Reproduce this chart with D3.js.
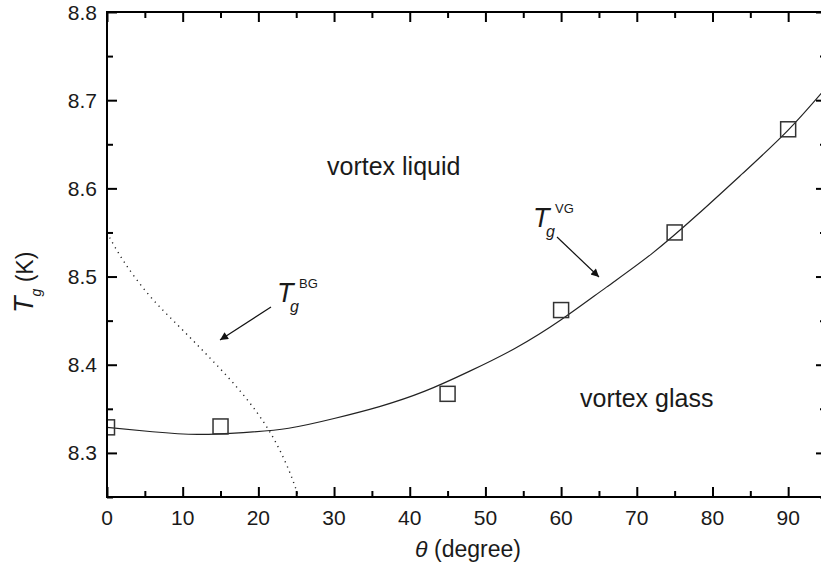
<!DOCTYPE html>
<html>
<head>
<meta charset="utf-8">
<script src="https://cdn.jsdelivr.net/npm/d3@7"></script>
<style>
  body { margin: 0; background: #fff; }
  text { font-family: "Liberation Sans", Arial, sans-serif; fill: #1a1a1a; }
</style>
</head>
<body>
<script>
// measured Tg points (squares)
var thetaObs = [0, 15, 45, 60, 75, 90];
var tgObs    = [8.329, 8.330, 8.367, 8.462, 8.550, 8.667];

// Tg^VG fit line
var vgTheta = [0, 6, 12, 18, 24, 30, 36, 42, 48, 54, 60, 66, 72, 78, 84, 90, 95];
var vgTg    = [8.329, 8.324, 8.321, 8.323, 8.328, 8.339, 8.3525, 8.370, 8.393, 8.419, 8.451, 8.488, 8.526, 8.570, 8.617, 8.666, 8.714];

// Tg^BG dotted line
var bgTheta = [0, 1.94, 5.59, 9.42, 13.08, 16.68, 19.95, 22.42, 24.4, 25.5];
var bgTg    = [8.5497, 8.519, 8.4766, 8.4445, 8.4124, 8.3801, 8.3457, 8.312, 8.2742, 8.245];

var xTicks = [0, 10, 20, 30, 40, 50, 60, 70, 80, 90];
var yTicks = [8.3, 8.4, 8.5, 8.6, 8.7, 8.8];

var width = 821, height = 570;
// plot frame (right edge lies just outside the window, as in the original)
var box = {left: 107, right: 826, top: 12, bottom: 497};

var svg = d3.select("body").append("svg")
    .attr("width", width)
    .attr("height", height);

var x = d3.scaleLinear().domain([0, 95]).range([box.left, box.right]);
var y = d3.scaleLinear().domain([8.25, 8.8]).range([box.bottom, box.top]);

var defs = svg.append("defs");
defs.append("clipPath")
    .attr("id", "plot")
  .append("rect")
    .attr("x", box.left).attr("y", box.top)
    .attr("width", box.right - box.left).attr("height", box.bottom - box.top);

defs.append("marker")
    .attr("id", "arrow")
    .attr("viewBox", "0 0 10 10")
    .attr("refX", 10).attr("refY", 5)
    .attr("markerWidth", 11).attr("markerHeight", 8)
    .attr("markerUnits", "userSpaceOnUse")
    .attr("orient", "auto")
  .append("path")
    .attr("d", "M0,0 L10,5 L0,10 z")
    .attr("fill", "#111");

var plot = svg.append("g").attr("clip-path", "url(#plot)");

// fitted curves
var line = d3.line()
    .x(function(d) { return x(d[0]); })
    .y(function(d) { return y(d[1]); })
    .curve(d3.curveNatural);

plot.append("path")
    .datum(d3.zip(vgTheta, vgTg))
    .attr("d", line)
    .attr("fill", "none")
    .attr("stroke", "#222")
    .attr("stroke-width", 1.2);

plot.append("path")
    .datum(d3.zip(bgTheta, bgTg))
    .attr("d", line.curve(d3.curveBasis))
    .attr("fill", "none")
    .attr("stroke", "#222")
    .attr("stroke-width", 1.4)
    .attr("stroke-dasharray", "1.2,4.4");

// squares
var sq = 15;
plot.selectAll(".pt")
    .data(d3.zip(thetaObs, tgObs))
  .enter().append("rect")
    .attr("class", "pt")
    .attr("x", function(d) { return x(d[0]) - sq / 2; })
    .attr("y", function(d) { return y(d[1]) - sq / 2; })
    .attr("width", sq).attr("height", sq)
    .attr("fill", "none")
    .attr("stroke", "#333")
    .attr("stroke-width", 1.5);

// axes, ticks all pointing inward
var xMinor = d3.range(5, 95, 10);
var yMinor = [8.25, 8.35, 8.45, 8.55, 8.65, 8.75];

function xAxisOn(ypos, isTop) {
    var mk = isTop ? d3.axisTop : d3.axisBottom;
    var g = svg.append("g").attr("transform", "translate(0," + ypos + ")");
    g.call(mk(x).tickValues(xTicks).tickSize(-10).tickFormat(""));
    g.append("g").call(mk(x).tickValues(xMinor).tickSize(-6).tickFormat(""));
    return g;
}
function yAxisOn(xpos, isLeft) {
    var mk = isLeft ? d3.axisLeft : d3.axisRight;
    var g = svg.append("g").attr("transform", "translate(" + xpos + ",0)");
    g.call(mk(y).tickValues(yTicks).tickSize(-10).tickFormat(""));
    g.append("g").call(mk(y).tickValues(yMinor).tickSize(-6).tickFormat(""));
    return g;
}
var axes = [xAxisOn(box.bottom, false), xAxisOn(box.top, true), yAxisOn(box.left, true), yAxisOn(box.right, false)];
axes.forEach(function(g) {
    g.selectAll(".domain").remove();
    g.selectAll("line").attr("stroke", "#000").attr("stroke-width", 2);
});

// frame
svg.append("rect")
    .attr("x", box.left).attr("y", box.top)
    .attr("width", box.right - box.left).attr("height", box.bottom - box.top)
    .attr("fill", "none")
    .attr("stroke", "#000")
    .attr("stroke-width", 2);

// tick labels
svg.selectAll(".xl")
    .data(xTicks)
  .enter().append("text")
    .attr("class", "xl")
    .attr("x", function(d) { return x(d); })
    .attr("y", 525)
    .attr("text-anchor", "middle")
    .style("font-size", "21px")
    .text(function(d) { return d; });

svg.selectAll(".yl")
    .data(yTicks)
  .enter().append("text")
    .attr("class", "yl")
    .attr("x", 97)
    .attr("y", function(d) { return y(d); })
    .attr("dy", "0.36em")
    .attr("text-anchor", "end")
    .style("font-size", "21px")
    .text(function(d) { return d3.format(".1f")(d); });

// axis titles
var xt = svg.append("text")
    .attr("x", 468).attr("y", 557)
    .attr("text-anchor", "middle")
    .style("font-size", "23px");
xt.append("tspan").style("font-style", "italic").text("\u03b8");
xt.append("tspan").text(" (degree)");

var yt = svg.append("text")
    .attr("transform", "translate(33,313) rotate(-90)")
    .attr("x", 0).attr("y", 0)
    .style("font-size", "23px");
yt.append("tspan").style("font-style", "italic").style("font-size", "27px").text("T");
yt.append("tspan").style("font-style", "italic").style("font-size", "14px").attr("dy", 8).text("g");
yt.append("tspan").attr("dy", -8).text(" (K)");

// region labels
svg.append("text").attr("x", 327).attr("y", 175).style("font-size", "25px").text("vortex liquid");
svg.append("text").attr("x", 580).attr("y", 407).style("font-size", "25px").text("vortex glass");

// curve labels with arrows
function tLabel(tx, ty, sup) {
    var g = svg.append("g");
    g.append("text").attr("x", tx).attr("y", ty)
        .style("font-size", "27px").style("font-style", "italic").text("T");
    g.append("text").attr("x", tx + 13).attr("y", ty + 10)
        .style("font-size", "16px").style("font-style", "italic").text("g");
    g.append("text").attr("x", tx + 22).attr("y", ty - 14)
        .style("font-size", "13px").text(sup);
}
tLabel(277, 302, "BG");
tLabel(533, 227, "VG");

svg.append("line")
    .attr("x1", 271).attr("y1", 307).attr("x2", 220).attr("y2", 340)
    .attr("stroke", "#111").attr("stroke-width", 1.2)
    .attr("marker-end", "url(#arrow)");
svg.append("line")
    .attr("x1", 557).attr("y1", 237).attr("x2", 599).attr("y2", 277)
    .attr("stroke", "#111").attr("stroke-width", 1.2)
    .attr("marker-end", "url(#arrow)");
</script>
</body>
</html>
